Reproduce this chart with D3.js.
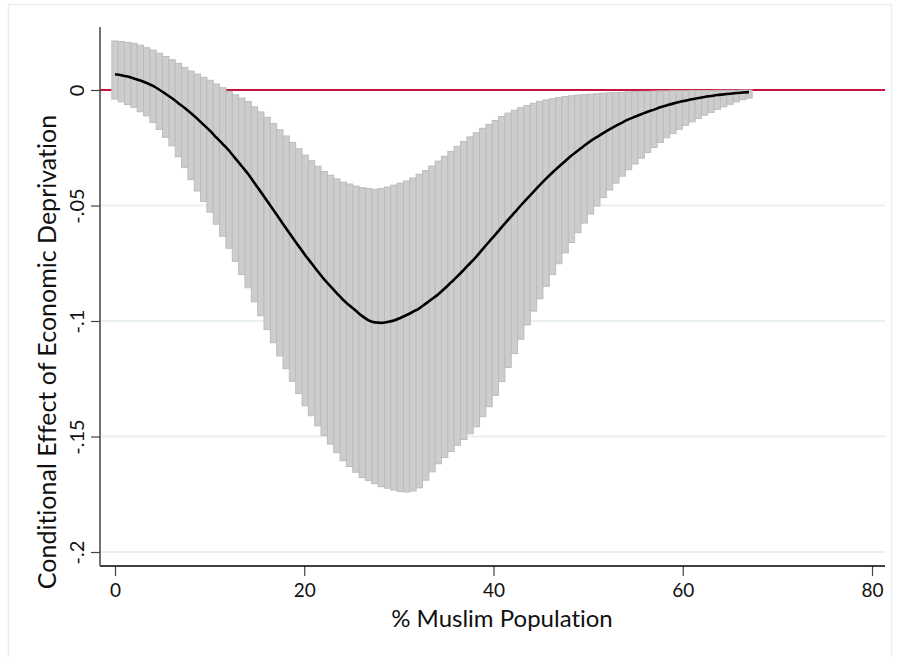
<!DOCTYPE html>
<html>
<head>
<meta charset="utf-8">
<script src="https://cdn.jsdelivr.net/npm/d3@7"></script>
<style>
  body { margin: 0; background: #fff; }
  text { font-family: Lato, "Open Sans", sans-serif; fill: #111; font-variant-ligatures: none; }
</style>
</head>
<body>
<svg id="chart"></svg>
<script>
// % Muslim population at each margin point
var muslimPct = [0, 0.67, 1.34, 2.01, 2.68, 3.35, 4.02, 4.69, 5.36, 6.03,
  6.70, 7.37, 8.04, 8.71, 9.38, 10.05, 10.72, 11.39, 12.06, 12.73,
  13.40, 14.07, 14.74, 15.41, 16.08, 16.75, 17.42, 18.09, 18.76, 19.43,
  20.10, 20.77, 21.44, 22.11, 22.78, 23.45, 24.12, 24.79, 25.46, 26.13,
  26.80, 27.47, 28.14, 28.81, 29.48, 30.15, 30.82, 31.49, 32.16, 32.83,
  33.50, 34.17, 34.84, 35.51, 36.18, 36.85, 37.52, 38.19, 38.86, 39.53,
  40.20, 40.87, 41.54, 42.21, 42.88, 43.55, 44.22, 44.89, 45.56, 46.23,
  46.90, 47.57, 48.24, 48.91, 49.58, 50.25, 50.92, 51.59, 52.26, 52.93,
  53.60, 54.27, 54.94, 55.61, 56.28, 56.95, 57.62, 58.29, 58.96, 59.63,
  60.30, 60.97, 61.64, 62.31, 62.98, 63.65, 64.32, 64.99, 65.66, 66.33, 67.00];

// conditional effect (point estimate)
var effect = [0.0068, 0.0064, 0.0058, 0.0050, 0.0041, 0.0030, 0.0018, 0.0001, -0.0017, -0.0036,
  -0.0057, -0.0078, -0.0101, -0.0125, -0.0151, -0.0177, -0.0206, -0.0234, -0.0263, -0.0297,
  -0.0330, -0.0364, -0.0403, -0.0441, -0.0480, -0.0520, -0.0560, -0.0600, -0.0639, -0.0677,
  -0.0715, -0.0750, -0.0786, -0.0820, -0.0850, -0.0880, -0.0909, -0.0933, -0.0956, -0.0979,
  -0.0997, -0.1006, -0.1008, -0.1004, -0.0998, -0.0987, -0.0974, -0.0960, -0.0945, -0.0925,
  -0.0905, -0.0884, -0.0859, -0.0833, -0.0807, -0.0779, -0.0750, -0.0721, -0.0689, -0.0657,
  -0.0626, -0.0594, -0.0562, -0.0531, -0.0500, -0.0470, -0.0441, -0.0412, -0.0384, -0.0357,
  -0.0332, -0.0308, -0.0284, -0.0263, -0.0241, -0.0221, -0.0204, -0.0187, -0.0170, -0.0155,
  -0.0141, -0.0127, -0.0116, -0.0105, -0.0094, -0.0085, -0.0075, -0.0067, -0.0059, -0.0052,
  -0.0046, -0.0040, -0.0035, -0.0030, -0.0026, -0.0022, -0.0019, -0.0016, -0.0013, -0.0011, -0.0009];

// upper bound of the confidence interval
var upper = [0.0212, 0.0210, 0.0206, 0.0202, 0.0194, 0.0183, 0.0173, 0.0159, 0.0145, 0.0131,
  0.0115, 0.0098, 0.0082, 0.0069, 0.0055, 0.0042, 0.0026, 0.0010, -0.0006, -0.0021,
  -0.0035, -0.0050, -0.0073, -0.0095, -0.0118, -0.0145, -0.0172, -0.0199, -0.0227, -0.0254,
  -0.0282, -0.0306, -0.0330, -0.0353, -0.0369, -0.0385, -0.0399, -0.0407, -0.0416, -0.0423,
  -0.0426, -0.0430, -0.0427, -0.0420, -0.0412, -0.0403, -0.0394, -0.0381, -0.0365, -0.0349,
  -0.0329, -0.0308, -0.0287, -0.0266, -0.0244, -0.0223, -0.0203, -0.0185, -0.0166, -0.0149,
  -0.0132, -0.0115, -0.0100, -0.0088, -0.0077, -0.0067, -0.0058, -0.0049, -0.0043, -0.0038,
  -0.0033, -0.0028, -0.0025, -0.0022, -0.0020, -0.0018, -0.0016, -0.0014, -0.0012, -0.0011,
  -0.0010, -0.0008, -0.0007, -0.0006, -0.0006, -0.0005, -0.0004, -0.0004, -0.0003, -0.0003,
  -0.0003, -0.0002, -0.0002, -0.0002, -0.0002, -0.0001, -0.0001, -0.0001, -0.0001, 0.0000, 0.0000];

// lower bound of the confidence interval
var lower = [-0.0039, -0.0051, -0.0063, -0.0075, -0.0094, -0.0112, -0.0141, -0.0171, -0.0205, -0.0242,
  -0.0289, -0.0336, -0.0388, -0.0437, -0.0483, -0.0529, -0.0581, -0.0633, -0.0685, -0.0742,
  -0.0799, -0.0856, -0.0917, -0.0977, -0.1037, -0.1094, -0.1151, -0.1207, -0.1261, -0.1314,
  -0.1367, -0.1410, -0.1454, -0.1496, -0.1533, -0.1570, -0.1605, -0.1630, -0.1655, -0.1678,
  -0.1691, -0.1704, -0.1717, -0.1724, -0.1732, -0.1738, -0.1740, -0.1736, -0.1722, -0.1689,
  -0.1653, -0.1618, -0.1591, -0.1565, -0.1538, -0.1513, -0.1488, -0.1458, -0.1414, -0.1371,
  -0.1322, -0.1262, -0.1201, -0.1141, -0.1079, -0.1017, -0.0957, -0.0904, -0.0850, -0.0799,
  -0.0752, -0.0705, -0.0660, -0.0618, -0.0576, -0.0537, -0.0502, -0.0466, -0.0433, -0.0403,
  -0.0373, -0.0345, -0.0320, -0.0295, -0.0271, -0.0249, -0.0227, -0.0207, -0.0189, -0.0170,
  -0.0153, -0.0138, -0.0123, -0.0109, -0.0097, -0.0084, -0.0073, -0.0062, -0.0051, -0.0042, -0.0035];

var xTicks = [0, 20, 40, 60, 80];
var yTicks = [0, -0.05, -0.1, -0.15, -0.2];
var yTickLabels = ["0", "-.05", "-.1", "-.15", "-.2"];
var xTitle = "% Muslim Population";
var yTitle = "Conditional Effect of Economic Deprivation";

var WIDTH = 899, HEIGHT = 657;
var plot = {left: 100, right: 885, top: 27, bottom: 566};

var svg = d3.select("#chart")
  .attr("width", WIDTH)
  .attr("height", HEIGHT);

// px 115 = 0, px 872 = 80 ; px 90 = 0, px 552 = -.2
var scaleX = d3.scaleLinear().domain([0, 80]).range([115, 872]);
var scaleY = d3.scaleLinear().domain([0, -0.2]).range([90, 552]);

// outer graph frame
svg.append("rect")
  .attr("x", 8.5).attr("y", 4.5)
  .attr("width", 883).attr("height", 660)
  .attr("fill", "none")
  .attr("stroke", "#e7eef0")
  .attr("stroke-width", 1.5);

// gridlines
svg.append("g").selectAll("line")
  .data(yTicks.slice(1))
  .enter().append("line")
  .attr("x1", plot.left).attr("x2", plot.right)
  .attr("y1", function(d) { return scaleY(d); })
  .attr("y2", function(d) { return scaleY(d); })
  .attr("stroke", "#e9f0f2")
  .attr("stroke-width", 1.8);

// zero reference line
svg.append("line")
  .attr("x1", plot.left).attr("x2", plot.right)
  .attr("y1", scaleY(0)).attr("y2", scaleY(0))
  .attr("stroke", "#c8143c")
  .attr("stroke-width", 2);

// confidence interval bars
var data = muslimPct.map(function(m, i) {
  return {x: m, y: effect[i], hi: upper[i], lo: lower[i]};
});
var barW = scaleX(muslimPct[1]) - scaleX(muslimPct[0]);

svg.append("g").selectAll("rect")
  .data(data)
  .enter().append("rect")
  .attr("x", function(d) { return scaleX(d.x) - barW / 2; })
  .attr("y", function(d) { return scaleY(d.hi); })
  .attr("width", barW)
  .attr("height", function(d) { return scaleY(d.lo) - scaleY(d.hi); })
  .attr("fill", "#cdcdcd")
  .attr("stroke", "#bcbcbc")
  .attr("stroke-width", 1);

// point estimate line
var line = d3.line()
  .x(function(d) { return scaleX(d.x); })
  .y(function(d) { return scaleY(d.y); })
  .curve(d3.curveMonotoneX);

svg.append("path")
  .datum(data)
  .attr("d", line)
  .attr("fill", "none")
  .attr("stroke", "#000")
  .attr("stroke-width", 2.6);

// axes
var xAxis = svg.append("g")
  .attr("transform", "translate(0," + plot.bottom + ")")
  .call(d3.axisBottom(scaleX).tickValues(xTicks).tickSize(10).tickPadding(8));
xAxis.select(".domain").remove();
xAxis.append("line")
  .attr("x1", plot.left).attr("x2", plot.right)
  .attr("stroke", "#000").attr("stroke-width", 1.5);
xAxis.selectAll(".tick line").attr("stroke", "#444").attr("stroke-width", 1.2);
xAxis.selectAll(".tick text")
  .style("font-family", "Lato, sans-serif")
  .style("font-size", "19px")
  .attr("fill", "#111");

var yAxis = svg.append("g")
  .attr("transform", "translate(" + plot.left + ",0)")
  .call(d3.axisLeft(scaleY).tickValues(yTicks).tickSize(9)
    .tickFormat(function(d, i) { return yTickLabels[i]; }));
yAxis.select(".domain").remove();
yAxis.append("line")
  .attr("y1", plot.top).attr("y2", plot.bottom)
  .attr("stroke", "#444").attr("stroke-width", 1.5);
yAxis.selectAll(".tick line").attr("stroke", "#444").attr("stroke-width", 1.2);
yAxis.selectAll(".tick text")
  .attr("x", null).attr("dy", null)
  .attr("transform", "translate(-16,0) rotate(-90)")
  .attr("text-anchor", "middle")
  .attr("dominant-baseline", "auto")
  .style("font-family", "Lato, sans-serif")
  .style("font-size", "20px")
  .attr("fill", "#111");

// axis titles
svg.append("text")
  .attr("x", 502).attr("y", 627)
  .attr("text-anchor", "middle")
  .style("font-size", "24px")
  .text(xTitle);

svg.append("text")
  .attr("transform", "translate(56," + 352 + ") rotate(-90)")
  .attr("text-anchor", "middle")
  .style("font-size", "25px")
  .text(yTitle);
</script>
</body>
</html>
